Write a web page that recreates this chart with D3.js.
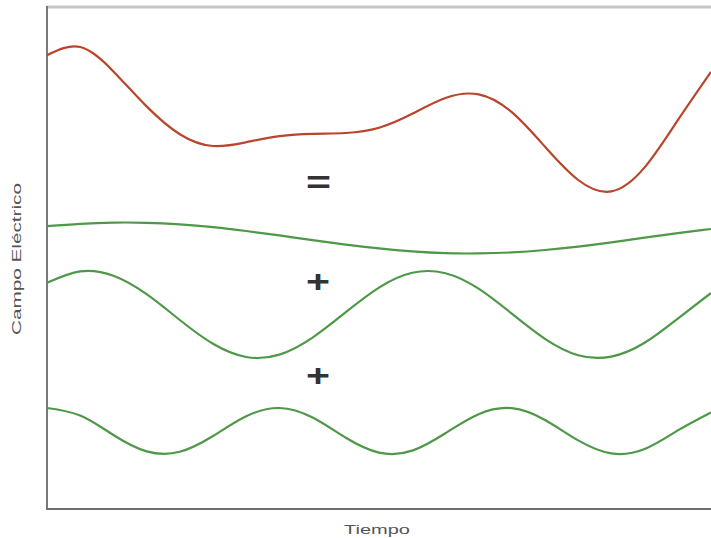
<!DOCTYPE html>
<html>
<head>
<meta charset="utf-8">
<script src="https://cdn.jsdelivr.net/npm/d3@7"></script>
<style>
  html, body { margin: 0; padding: 0; background: #fff; }
  svg { display: block; }
</style>
</head>
<body>
<svg id="chart" width="711" height="538"></svg>
<script>
// ---- data ----
const tiempo = [0, 0.5, 1, 1.5, 2, 2.5, 3, 3.5, 4, 4.5, 5, 5.5, 6, 6.5, 7, 7.5, 8, 8.5, 9, 9.5, 10];

const ondaLenta = [141.4, 142.6, 143.2, 143.1, 142.3, 140.9, 139.0, 136.8, 134.4, 132.2, 130.3,
                   128.8, 127.9, 127.8, 128.3, 129.5, 131.2, 133.3, 135.7, 137.9, 140.0];
const ondaMedia = [113.1, 118.8, 116.6, 107.4, 94.5, 82.6, 76.0, 77.2, 85.7, 98.4, 110.7,
                   118.1, 117.9, 110.2, 97.7, 85.1, 76.9, 76.2, 83.1, 95.2, 108.0];
const ondaRapida = [50.5, 46.7, 37.0, 28.8, 28.6, 36.5, 46.4, 50.5, 45.7, 35.6, 28.2,
                    29.2, 37.9, 47.4, 50.4, 44.5, 34.3, 27.8, 30.0, 39.3, 48.3];
const ondaSuma = [226.9, 231.0, 218.8, 201.3, 187.4, 181.5, 183.4, 186.4, 187.6, 188.0, 190.6,
                  197.6, 205.5, 207.3, 198.4, 181.1, 164.5, 158.8, 170.8, 194.4, 218.6];

const simbolos = [
  { texto: "=", t: 4.09, v: 163.5, ancho: 21 },
  { texto: "+", t: 4.08, v: 114.0, ancho: 20 },
  { texto: "+", t: 4.08, v: 67.0, ancho: 20 }
];
const xLabel = "Tiempo";
const yLabel = "Campo Eléctrico";

// ---- layout ----
const W = 711, H = 538;
const mLeft = 47, mTop = 7, mBottom = 509, mRight = 711;

const svg = d3.select("#chart");

const x = d3.scaleLinear().domain([0, 10]).range([mLeft, mRight]);
const y = d3.scaleLinear().domain([0, 251]).range([mBottom, mTop]);

// frame
svg.append("line").attr("x1", mLeft).attr("x2", W + 2).attr("y1", mTop).attr("y2", mTop)
  .attr("stroke", "#c6c6c6").attr("stroke-width", 3);
svg.append("line").attr("x1", mLeft).attr("x2", mLeft).attr("y1", mTop - 1).attr("y2", mBottom + 1)
  .attr("stroke", "#7a7a7a").attr("stroke-width", 2);
svg.append("line").attr("x1", mLeft - 1).attr("x2", W + 2).attr("y1", mBottom).attr("y2", mBottom)
  .attr("stroke", "#6e6e6e").attr("stroke-width", 2);

const line = d3.line()
  .x((d, i) => x(tiempo[i]))
  .y(d => y(d))
  .curve(d3.curveNatural);

const series = [
  { vals: ondaSuma, color: "#b8452c" },
  { vals: ondaLenta, color: "#4e9847" },
  { vals: ondaMedia, color: "#4e9847" },
  { vals: ondaRapida, color: "#4e9847" }
];

svg.append("g").selectAll("path").data(series).join("path")
  .attr("d", d => line(d.vals))
  .attr("fill", "none")
  .attr("stroke", d => d.color)
  .attr("stroke-width", 2.2)
  .attr("stroke-linejoin", "round");

// symbols
svg.append("g").selectAll("text").data(simbolos).join("text")
  .attr("x", d => x(d.t))
  .attr("y", d => y(d.v))
  .attr("text-anchor", "middle")
  .attr("dominant-baseline", "central")
  .attr("font-family", "Liberation Sans, Arial, sans-serif")
  .attr("font-size", 32)
  .attr("font-weight", "bold")
  .attr("fill", "#333")
  .attr("textLength", d => d.ancho + 4)
  .attr("lengthAdjust", "spacingAndGlyphs")
  .text(d => d.texto);

// axis labels
svg.append("text")
  .attr("x", 377).attr("y", 534)
  .attr("text-anchor", "middle")
  .attr("font-family", "Liberation Sans, Arial, sans-serif")
  .attr("font-size", 13)
  .attr("fill", "#555")
  .attr("textLength", 66)
  .attr("lengthAdjust", "spacingAndGlyphs")
  .text(xLabel);

svg.append("text")
  .attr("transform", "translate(21,259) rotate(-90)")
  .attr("text-anchor", "middle")
  .attr("font-family", "Liberation Sans, Arial, sans-serif")
  .attr("font-size", 12)
  .attr("fill", "#555")
  .attr("textLength", 152)
  .attr("lengthAdjust", "spacingAndGlyphs")
  .text(yLabel);
</script>
</body>
</html>
